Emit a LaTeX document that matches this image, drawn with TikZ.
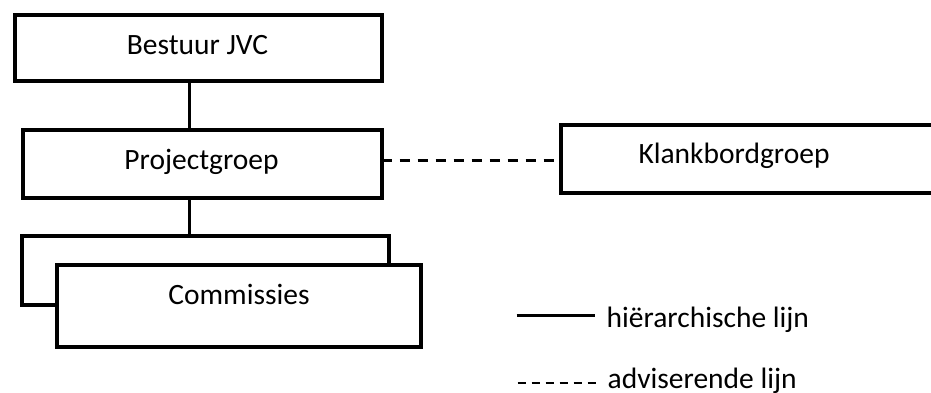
\documentclass[tikz,border=0pt]{standalone}
\usepackage{fontspec}
\setmainfont{Carlito}
\begin{document}
\begin{tikzpicture}[x=1pt,y=-1pt,
  box/.style={draw,line width=4pt,fill=white,inner sep=0pt,outer sep=0pt},
  lbl/.style={anchor=base,inner sep=0pt,font=\fontsize{29.5}{35}\selectfont},
  hier/.style={line width=3pt},
  adv/.style={line width=3pt,dash pattern=on 10pt off 8pt},
  advleg/.style={line width=2.6pt,dash pattern=on 8pt off 6pt}]
\useasboundingbox (0,0) rectangle (931,392);
\clip (0,0) rectangle (931,392);
\fill[white] (0,0) rectangle (931,392);
% boxes
\node[box,minimum width=366.5pt,minimum height=66.6pt] (bestuur) at (198.25,48) {};
\node[box,minimum width=358.5pt,minimum height=67.8pt] (project) at (202.25,163.6) {};
\node[box,minimum width=399.5pt,minimum height=67.5pt] (klank) at (760.25,158.75) {};
\node[box,minimum width=366.7pt,minimum height=68.7pt] (back) at (205.35,270.65) {};
\node[box,minimum width=364.3pt,minimum height=81.4pt] (front) at (239.15,306) {};
% texts
\node[lbl] (tbestuur) at (197.5,54.2) {Bestuur JVC};
\node[lbl] (tproject) at (201.5,169.5) {Projectgroep};
\node[lbl] (tklank) at (734,163.5) {Klankbordgroep};
\node[lbl] (tcomm) at (239,304) {Commissies};
% connectors
\coordinate (cx) at (189.7,0);
\coordinate (cy) at (0,160.2);
\draw[hier] (cx |- bestuur.south) -- (cx |- project.north);
\draw[hier] (cx |- project.south) -- (cx |- back.north);
\draw[adv] (project.east |- cy) -- (klank.west |- cy);
% legend
\coordinate (l1a) at (516.7,315.3);
\coordinate (l1b) at (595,315.3);
\coordinate (l2a) at (517.7,383);
\coordinate (l2b) at (596,383);
\draw[hier] (l1a) -- (l1b);
\draw[advleg] (l2a) -- (l2b);
\node[lbl,anchor=base west] (thier) at (606.5,327) {hiërarchische lijn};
\node[lbl,anchor=base west] (tadv) at (607.5,388) {adviserende lijn};
\end{tikzpicture}
\end{document}
